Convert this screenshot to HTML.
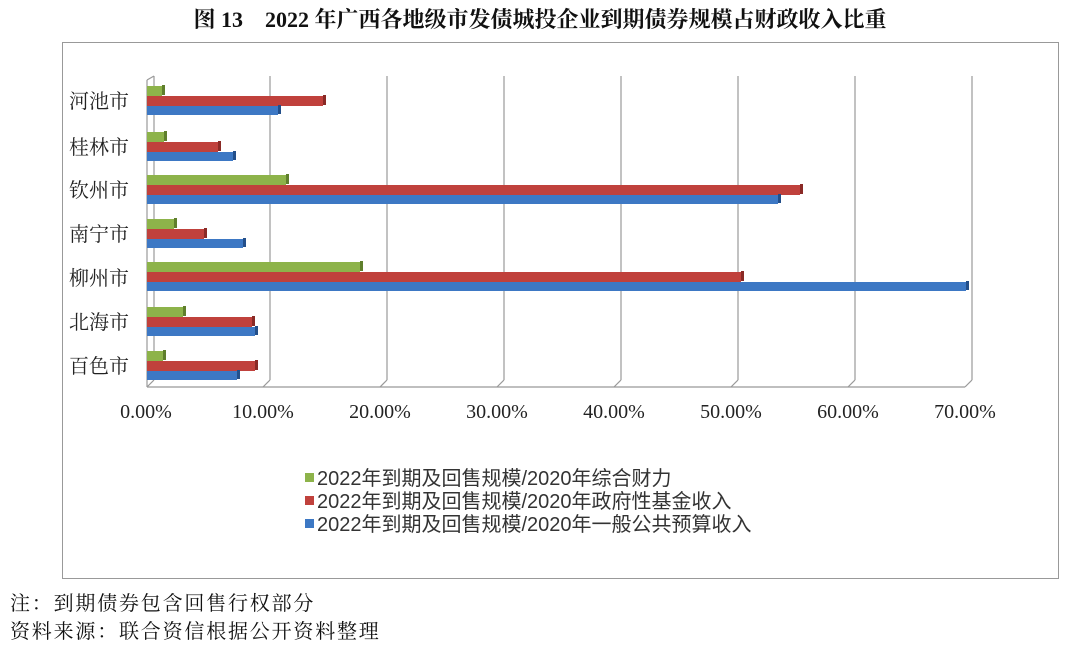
<!DOCTYPE html>
<html><head><meta charset="utf-8"><style>
html,body{margin:0;padding:0;background:#fff;width:1080px;height:647px;overflow:hidden}
</style></head><body>
<svg width="1080" height="647" viewBox="0 0 1080 647" xmlns="http://www.w3.org/2000/svg">
<text x="540" y="27" text-anchor="middle" font-family="Liberation Serif, Noto Serif CJK SC, serif" font-weight="bold" font-size="22" fill="#111">图 13　2022 年广西各地级市发债城投企业到期债券规模占财政收入比重</text>
<rect x="62.5" y="42.5" width="996" height="536" fill="#fff" stroke="#999" stroke-width="1"/>
<g stroke="#999" stroke-width="1.2" fill="none">
<line x1="154" y1="76" x2="154" y2="380"/>
<line x1="270" y1="76" x2="270" y2="380"/><line x1="263" y1="387" x2="270" y2="380"/>
<line x1="387" y1="76" x2="387" y2="380"/><line x1="380" y1="387" x2="387" y2="380"/>
<line x1="504" y1="76" x2="504" y2="380"/><line x1="497" y1="387" x2="504" y2="380"/>
<line x1="621" y1="76" x2="621" y2="380"/><line x1="614" y1="387" x2="621" y2="380"/>
<line x1="738" y1="76" x2="738" y2="380"/><line x1="731" y1="387" x2="738" y2="380"/>
<line x1="855" y1="76" x2="855" y2="380"/><line x1="848" y1="387" x2="855" y2="380"/>
<line x1="972" y1="76" x2="972" y2="380"/><line x1="965" y1="387" x2="972" y2="380"/>
<polyline points="147,80 154,76"/>
<line x1="147" y1="80" x2="147" y2="387"/>
<line x1="147" y1="387" x2="965" y2="387"/>
<line x1="147" y1="387" x2="154" y2="380"/>
</g>
<g>
<g fill="#8db34a">
<rect x="147" y="86" width="15" height="10"/><rect x="147" y="132" width="17" height="10"/><rect x="147" y="175" width="139" height="10"/><rect x="147" y="219" width="27" height="10"/><rect x="147" y="262" width="213" height="10"/><rect x="147" y="307" width="36" height="10"/><rect x="147" y="351" width="16" height="10"/>
</g>
<g fill="#5f7f2c">
<rect x="162" y="85" width="3" height="10"/><rect x="164" y="131" width="3" height="10"/><rect x="286" y="174" width="3" height="10"/><rect x="174" y="218" width="3" height="10"/><rect x="360" y="261" width="3" height="10"/><rect x="183" y="306" width="3" height="10"/><rect x="163" y="350" width="3" height="10"/>
</g>
<g fill="#c0413c">
<rect x="147" y="96" width="176" height="10"/><rect x="147" y="142" width="71" height="10"/><rect x="147" y="185" width="653" height="10"/><rect x="147" y="229" width="57" height="10"/><rect x="147" y="272" width="594" height="10"/><rect x="147" y="317" width="105" height="10"/><rect x="147" y="361" width="108" height="10"/>
</g>
<g fill="#8a2a26">
<rect x="323" y="95" width="3" height="10"/><rect x="218" y="141" width="3" height="10"/><rect x="800" y="184" width="3" height="10"/><rect x="204" y="228" width="3" height="10"/><rect x="741" y="271" width="3" height="10"/><rect x="252" y="316" width="3" height="10"/><rect x="255" y="360" width="3" height="10"/>
</g>
<g fill="#3d78c4">
<rect x="147" y="106" width="131" height="9"/><rect x="147" y="152" width="86" height="9"/><rect x="147" y="195" width="631" height="9"/><rect x="147" y="239" width="96" height="9"/><rect x="147" y="282" width="819" height="9"/><rect x="147" y="327" width="108" height="9"/><rect x="147" y="371" width="90" height="9"/>
</g>
<g fill="#234f8a">
<rect x="278" y="105" width="3" height="9"/><rect x="233" y="151" width="3" height="9"/><rect x="778" y="194" width="3" height="9"/><rect x="243" y="238" width="3" height="9"/><rect x="966" y="281" width="3" height="9"/><rect x="255" y="326" width="3" height="9"/><rect x="237" y="370" width="3" height="9"/>
</g>
</g>
<g font-family="Liberation Serif, Noto Serif CJK SC, serif" font-size="20" fill="#222" text-anchor="end">
<text x="129" y="108">河池市</text><text x="129" y="154">桂林市</text><text x="129" y="197">钦州市</text>
<text x="129" y="241">南宁市</text><text x="129" y="285">柳州市</text><text x="129" y="329">北海市</text><text x="129" y="373">百色市</text>
</g>
<g font-family="Liberation Serif, serif" font-size="20" fill="#222" text-anchor="middle">
<text x="146" y="418">0.00%</text><text x="263" y="418">10.00%</text><text x="380" y="418">20.00%</text>
<text x="497" y="418">30.00%</text><text x="614" y="418">40.00%</text><text x="731" y="418">50.00%</text>
<text x="848" y="418">60.00%</text><text x="965" y="418">70.00%</text>
</g>
<g font-family="Liberation Sans, Noto Sans CJK SC, sans-serif" font-size="20" fill="#333">
<rect x="305" y="473" width="9" height="9" fill="#8db34a"/><text x="317" y="485">2022年到期及回售规模/2020年综合财力</text>
<rect x="305" y="496" width="9" height="9" fill="#c0413c"/><text x="317" y="508">2022年到期及回售规模/2020年政府性基金收入</text>
<rect x="305" y="519" width="9" height="9" fill="#3d78c4"/><text x="317" y="531">2022年到期及回售规模/2020年一般公共预算收入</text>
</g>
<g font-family="Liberation Serif, Noto Serif CJK SC, serif" font-size="20" fill="#111" letter-spacing="1.8">
<text x="10" y="610">注：到期债券包含回售行权部分</text>
<text x="10" y="638">资料来源：联合资信根据公开资料整理</text>
</g>
</svg>
</body></html>
